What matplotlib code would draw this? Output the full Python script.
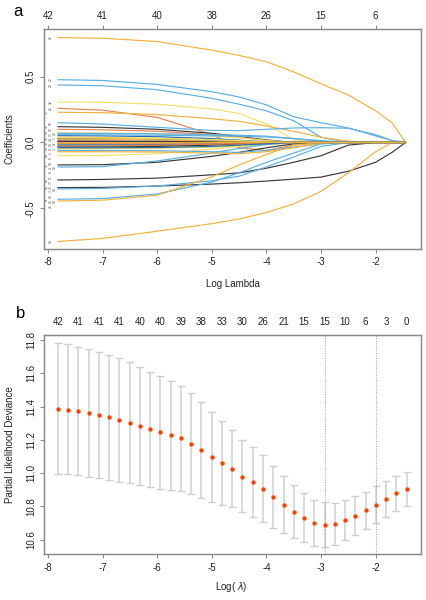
import matplotlib
matplotlib.use("Agg")
import matplotlib.pyplot as plt

plt.rcParams['font.family'] = ['Liberation Sans', 'DejaVu Sans']

# ---------------- Panel a data: coefficient paths ----------------
path_loglambda = [-7.82, -7.0, -6.0, -5.0, -4.5, -4.0, -3.5, -3.0, -2.5, -2.0, -1.7, -1.45]

O = "#F2B23E"; B = "#5BAFE3"; Y = "#F2E26B"; K = "#3A3A3A"; S = "#E8834E"; N = "#1F6FAE"; R = "#A52020"

path_labels = ["26", "23", "29", "32", "22", "12", "50", "36", "30", "39", "24", "14", "18", "7",
               "2", "9", "4", "6", "11", "17", "41", "3", "40", "1", "28", "33", "34", "44",
               "48", "49", "51", "54", "43", "37", "8", "19", "27", "45", "46", "10", "20", "15"]
path_colors = [O, B, B, Y, S, O, B, K, S, Y, B, N, O, K,
               B, R, K, Y, B, N, S, K, O, Y, Y, K, B, K,
               K, B, B, O, O, B, O, Y, S, B, O, K, N, O]
path_values = [
    [0.795, 0.790, 0.765, 0.700, 0.660, 0.612, 0.535, 0.445, 0.360, 0.240, 0.150, 0.000],
    [0.476, 0.470, 0.440, 0.385, 0.345, 0.285, 0.195, 0.150, 0.110, 0.050, 0.015, 0.000],
    [0.436, 0.430, 0.400, 0.335, 0.290, 0.240, 0.165, 0.040, 0.000, 0.0, 0.0, 0.0],
    [0.307, 0.305, 0.290, 0.255, 0.220, 0.140, 0.020, 0.0, 0.0, 0.0, 0.0, 0.0],
    [0.259, 0.245, 0.190, 0.060, -0.040, -0.060, -0.020, 0.0, 0.0, 0.0, 0.0, 0.0],
    [0.229, 0.226, 0.212, 0.180, 0.160, 0.125, 0.085, 0.040, 0.010, 0.0, 0.0, 0.0],
    [0.150, 0.140, 0.115, 0.092, 0.090, 0.100, 0.110, 0.112, 0.108, 0.060, 0.015, 0.0],
    [0.120, 0.115, 0.100, 0.070, 0.045, 0.020, 0.0, 0.0, 0.0, 0.0, 0.0, 0.0],
    [0.100, 0.096, 0.085, 0.060, 0.040, 0.015, 0.0, 0.0, 0.0, 0.0, 0.0, 0.0],
    [0.074, 0.072, 0.066, 0.050, 0.035, 0.015, 0.0, 0.0, 0.0, 0.0, 0.0, 0.0],
    [0.070, 0.069, 0.066, 0.060, 0.055, 0.048, 0.030, 0.008, 0.0, 0.0, 0.0, 0.0],
    [0.052, 0.050, 0.044, 0.030, 0.018, 0.005, 0.0, 0.0, 0.0, 0.0, 0.0, 0.0],
    [0.040, 0.038, 0.032, 0.020, 0.010, 0.0, 0.0, 0.0, 0.0, 0.0, 0.0, 0.0],
    [0.030, 0.028, 0.022, 0.012, 0.005, 0.0, 0.0, 0.0, 0.0, 0.0, 0.0, 0.0],
    [0.022, 0.021, 0.018, 0.012, 0.006, 0.0, 0.0, 0.0, 0.0, 0.0, 0.0, 0.0],
    [0.011, 0.010, 0.008, 0.004, 0.002, 0.0, 0.0, 0.0, 0.0, 0.0, 0.0, 0.0],
    [0.005, 0.005, 0.004, 0.002, 0.0, 0.0, 0.0, 0.0, 0.0, 0.0, 0.0, 0.0],
    [-0.006, -0.006, -0.005, -0.003, 0.0, 0.0, 0.0, 0.0, 0.0, 0.0, 0.0, 0.0],
    [-0.014, -0.013, -0.011, -0.006, -0.002, 0.0, 0.0, 0.0, 0.0, 0.0, 0.0, 0.0],
    [-0.020, -0.019, -0.016, -0.010, -0.004, 0.0, 0.0, 0.0, 0.0, 0.0, 0.0, 0.0],
    [-0.027, -0.026, -0.022, -0.014, -0.008, 0.0, 0.0, 0.0, 0.0, 0.0, 0.0, 0.0],
    [-0.035, -0.034, -0.030, -0.020, -0.010, -0.002, 0.0, 0.0, 0.0, 0.0, 0.0, 0.0],
    [-0.044, -0.043, -0.040, -0.030, -0.020, -0.008, 0.0, 0.0, 0.0, 0.0, 0.0, 0.0],
    [-0.047, -0.046, -0.043, -0.035, -0.028, -0.018, -0.005, 0.0, 0.0, 0.0, 0.0, 0.0],
    [-0.100, -0.098, -0.085, -0.050, -0.030, -0.012, 0.0, 0.0, 0.0, 0.0, 0.0, 0.0],
    [-0.170, -0.168, -0.150, -0.105, -0.075, -0.040, -0.010, 0.0, 0.0, 0.0, 0.0, 0.0],
    [-0.186, -0.183, -0.140, -0.080, -0.045, -0.015, 0.0, 0.0, 0.0, 0.0, 0.0, 0.0],
    [-0.284, -0.280, -0.270, -0.245, -0.230, -0.195, -0.150, -0.100, -0.020, 0.0, 0.0, 0.0],
    [-0.342, -0.340, -0.330, -0.315, -0.305, -0.292, -0.278, -0.262, -0.218, -0.150, -0.075, 0.0],
    [-0.352, -0.348, -0.330, -0.290, -0.255, -0.185, -0.110, -0.030, 0.0, 0.0, 0.0, 0.0],
    [-0.430, -0.425, -0.390, -0.300, -0.230, -0.150, -0.080, -0.010, 0.0, 0.0, 0.0, 0.0],
    [-0.443, -0.437, -0.400, -0.260, -0.170, -0.090, -0.020, 0.0, 0.0, 0.0, 0.0, 0.0],
    [-0.750, -0.727, -0.672, -0.615, -0.580, -0.530, -0.465, -0.370, -0.230, -0.070, 0.0, 0.0],
    [0.060, 0.058, 0.055, 0.050, 0.048, 0.042, 0.030, 0.015, 0.0, 0.0, 0.0, 0.0],
    [0.025, 0.024, 0.020, 0.010, 0.003, 0.0, 0.0, 0.0, 0.0, 0.0, 0.0, 0.0],
    [0.035, 0.034, 0.030, 0.022, 0.014, 0.004, 0.0, 0.0, 0.0, 0.0, 0.0, 0.0],
    [-0.008, -0.008, -0.010, -0.012, -0.010, -0.004, 0.0, 0.0, 0.0, 0.0, 0.0, 0.0],
    [-0.060, -0.060, -0.062, -0.070, -0.075, -0.060, -0.035, -0.010, 0.0, 0.0, 0.0, 0.0],
    [-0.070, -0.070, -0.072, -0.080, -0.085, -0.070, -0.040, -0.005, 0.0, 0.0, 0.0, 0.0],
    [0.008, 0.008, 0.006, 0.003, 0.0, 0.0, 0.0, 0.0, 0.0, 0.0, 0.0, 0.0],
    [-0.040, -0.040, -0.038, -0.030, -0.020, -0.010, 0.0, 0.0, 0.0, 0.0, 0.0, 0.0],
    [-0.002, -0.002, -0.002, -0.001, 0.0, 0.0, 0.0, 0.0, 0.0, 0.0, 0.0, 0.0],
]

a_top_ticks = [-8, -7, -6, -5, -4, -3, -2]
a_top_labels = ["42", "41", "40", "38", "26", "15", "6"]

# ---------------- Panel b data: cross-validation ----------------
cv_loglambda = [-7.822, -7.634, -7.446, -7.258, -7.070, -6.882, -6.694, -6.506, -6.318, -6.130,
                -5.942, -5.754, -5.566, -5.378, -5.190, -5.002, -4.814, -4.626, -4.438, -4.250,
                -4.062, -3.874, -3.686, -3.498, -3.310, -3.122, -2.934, -2.746, -2.558, -2.370,
                -2.182, -1.994, -1.806, -1.618, -1.430]
cv_mean = [11.388, 11.382, 11.374, 11.362, 11.350, 11.336, 11.320, 11.301, 11.281, 11.264,
           11.246, 11.229, 11.209, 11.177, 11.139, 11.095, 11.059, 11.025, 10.979, 10.945,
           10.907, 10.859, 10.809, 10.769, 10.731, 10.703, 10.689, 10.695, 10.717, 10.743,
           10.777, 10.809, 10.845, 10.879, 10.905]
cv_upper = [11.780, 11.774, 11.760, 11.746, 11.730, 11.712, 11.690, 11.666, 11.638, 11.610,
            11.582, 11.556, 11.524, 11.480, 11.425, 11.366, 11.312, 11.259, 11.198, 11.157,
            11.107, 11.045, 10.981, 10.927, 10.879, 10.841, 10.825, 10.823, 10.837, 10.861,
            10.889, 10.921, 10.953, 10.985, 11.009]
cv_lower = [10.997, 10.993, 10.987, 10.979, 10.971, 10.961, 10.949, 10.939, 10.929, 10.917,
            10.907, 10.901, 10.893, 10.877, 10.851, 10.827, 10.809, 10.795, 10.765, 10.737,
            10.709, 10.673, 10.639, 10.609, 10.585, 10.563, 10.557, 10.567, 10.597, 10.625,
            10.663, 10.699, 10.737, 10.775, 10.801]
cv_top_labels = ["42", "41", "41", "41", "40", "40", "39", "38", "33", "30", "26", "21",
                 "15", "15", "10", "6", "3", "0"]
lambda_min = -2.934
lambda_1se = -1.994

# ---------------- Figure ----------------
W, H = 427, 600
fig = plt.figure(figsize=(W / 100, H / 100), dpi=100)

SP = "#8A8A8A"
TXT = "#222222"
FS = 7

def box_axes(top_px, bottom_px):
    left_px, right_px = 44.3, 420.7
    return fig.add_axes([left_px / W, 1 - bottom_px / H, (right_px - left_px) / W, (bottom_px - top_px) / H])

def style(ax):
    for s in ax.spines.values():
        s.set_color(SP)
        s.set_linewidth(1.0)
    ax.tick_params(axis='both', colors=SP, labelcolor=TXT, labelsize=FS, length=3, width=0.8, pad=3)
    ax.tick_params(axis='y', labelrotation=90)
    for lab in ax.get_yticklabels():
        lab.set_va('center')

XL = (-8.068, -1.174)

# Panel a
axa = box_axes(29, 249)
for vals, col in zip(path_values, path_colors):
    axa.plot(path_loglambda, vals, color=col, lw=0.85, solid_capstyle='round')

# start labels: spread the crowded ones over a few narrow columns so they stay legible
order = sorted(range(len(path_values)), key=lambda i: -path_values[i][0])
cols_x = [-7.95, -8.02, -7.88]
last_y = [None, None, None]
for i in order:
    y0 = path_values[i][0]
    placed = False
    for c in range(3):
        if last_y[c] is None or last_y[c] - y0 > 0.036:
            axa.text(cols_x[c], y0, path_labels[i], fontsize=2.3, rotation=90, ha='center',
                     va='center', color='#444444')
            last_y[c] = y0
            placed = True
            break
    if not placed:
        c = min(range(3), key=lambda k: last_y[k])
        ynew = last_y[c] - 0.036
        axa.text(cols_x[c], ynew, path_labels[i], fontsize=2.3, rotation=90, ha='center',
                 va='center', color='#444444')
        last_y[c] = ynew

axa.set_xlim(*XL)
axa.set_ylim(-0.807, 0.860)
axa.set_xticks([-8, -7, -6, -5, -4, -3, -2])
axa.set_yticks([-0.5, 0.0, 0.5])
axa.set_yticklabels(["-0.5", "0.0", "0.5"])
axa.set_xticklabels(["-8", "-7", "-6", "-5", "-4", "-3", "-2"])
style(axa)
ta = axa.twiny()
ta.set_xlim(*XL)
ta.set_xticks(a_top_ticks)
ta.set_xticklabels(a_top_labels)
ta.tick_params(axis='x', colors=SP, labelcolor=TXT, labelsize=FS, length=3, width=0.8, pad=3)
for s in ta.spines.values():
    s.set_color(SP)

fig.text(232.5 / W, 1 - 284 / H, "Log Lambda", fontsize=FS, ha='center', va='center', color=TXT)
fig.text(10 / W, 1 - 139 / H, "Coefficients", fontsize=FS, rotation=90, ha='center', va='center', color=TXT)
fig.text(18 / W, 1 - 12 / H, "a", fontsize=12, ha='center', va='center', color='black')

# Panel b
axb = box_axes(335, 554.3)
yerr = [[m - lo for m, lo in zip(cv_mean, cv_lower)], [u - m for m, u in zip(cv_mean, cv_upper)]]
axb.errorbar(cv_loglambda, cv_mean, yerr=yerr, fmt='none', ecolor="#CFCFCF", elinewidth=1.1,
             capsize=2.8, capthick=1.0)
axb.axvline(lambda_min, color="#AAAAAA", lw=0.8, ls=(0, (1, 1.2)))
axb.axvline(lambda_1se, color="#AAAAAA", lw=0.8, ls=(0, (1, 1.2)))
axb.plot(cv_loglambda, cv_mean, 'o', color="#FF3A00", ms=2.8, mec="#FF5500", mew=0.3, zorder=5)
axb.set_xlim(*XL)
axb.set_ylim(10.512, 11.830)
axb.set_xticks([-8, -7, -6, -5, -4, -3, -2])
axb.set_xticklabels(["-8", "-7", "-6", "-5", "-4", "-3", "-2"])
axb.set_yticks([10.6, 10.8, 11.0, 11.2, 11.4, 11.6, 11.8])
axb.set_yticklabels(["10.6", "10.8", "11.0", "11.2", "11.4", "11.6", "11.8"])
style(axb)
tb = axb.twiny()
tb.set_xlim(*XL)
tb.set_xticks(cv_loglambda[::2])
tb.set_xticklabels(cv_top_labels)
tb.tick_params(axis='x', length=0, labelcolor=TXT, labelsize=FS, pad=6)
for s in tb.spines.values():
    s.set_color(SP)

fig.text(231.7 / W, 1 - 587 / H, r"Log( $\lambda$)", fontsize=FS, ha='center', va='center', color=TXT)
fig.text(10 / W, 1 - 444.6 / H, "Partial Likelihood Deviance", fontsize=FS, rotation=90,
         ha='center', va='center', color=TXT)
fig.text(20.7 / W, 1 - 314 / H, "b", fontsize=12, ha='center', va='center', color='black')

fig.savefig("out.png", dpi=100)
